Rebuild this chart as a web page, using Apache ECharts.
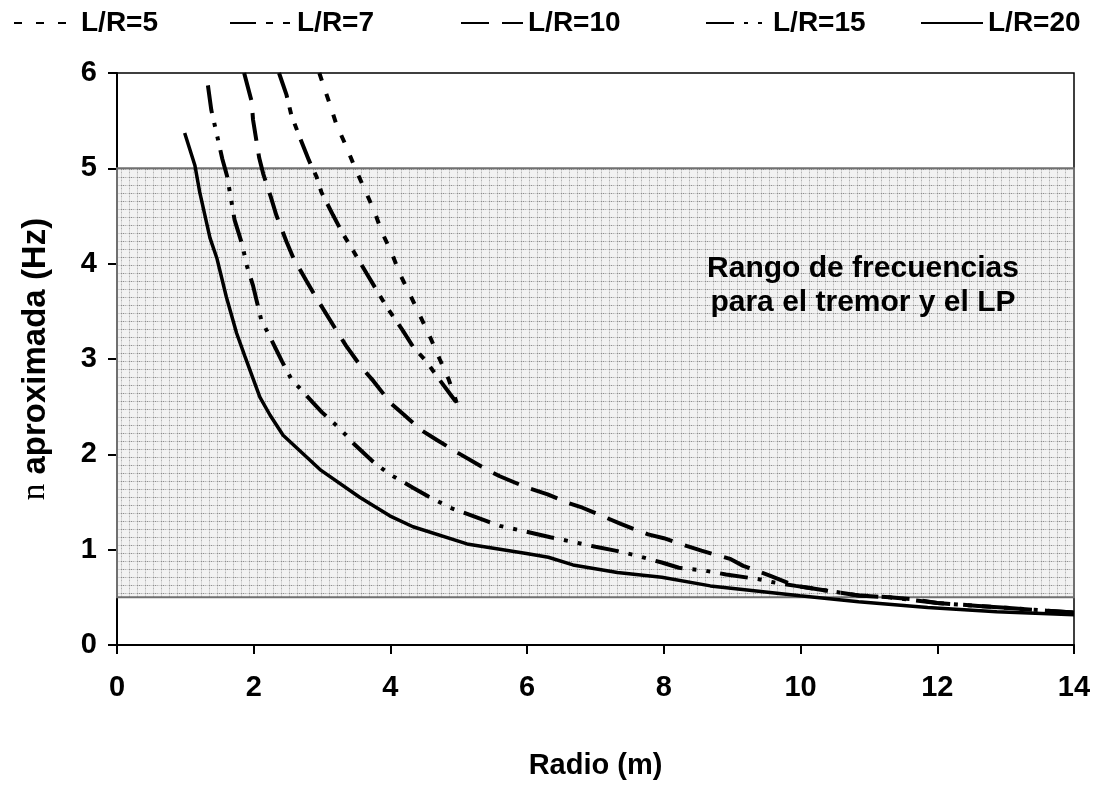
<!DOCTYPE html>
<html>
<head>
<meta charset="utf-8">
<script src="https://cdn.jsdelivr.net/npm/echarts@6/dist/echarts.min.js"></script>
<style>
html,body{margin:0;padding:0;background:#fff;}
#chart{width:1095px;height:785px;}
</style>
</head>
<body>
<div id="chart"></div>
<script>
// ---- data ----
const seriesNames = ['L/R=5', 'L/R=7', 'L/R=10', 'L/R=15', 'L/R=20'];

const lr5X = [2.96, 3.02, 3.11, 3.21, 3.36, 3.49, 3.63, 3.77, 3.87, 4.02, 4.14, 4.29, 4.43, 4.58, 4.72, 4.85, 4.97];
const lr5Y = [6.0, 5.87, 5.68, 5.46, 5.22, 4.99, 4.77, 4.54, 4.34, 4.11, 3.89, 3.67, 3.46, 3.23, 3.0, 2.79, 2.54];

const lr7X = [2.37, 2.48, 2.55, 2.66, 2.81, 2.92, 2.99, 3.16, 3.30, 3.46, 3.65, 3.80, 3.96, 4.17, 4.33, 4.53, 4.72, 4.97];
const lr7Y = [6.0, 5.77, 5.56, 5.35, 5.08, 4.91, 4.75, 4.51, 4.32, 4.13, 3.90, 3.72, 3.53, 3.31, 3.13, 2.97, 2.78, 2.54];

const lr10X = [1.86, 1.97, 1.99, 2.08, 2.14, 2.25, 2.33, 2.48, 2.58, 2.77, 2.90, 3.21, 3.35, 3.58, 3.75, 4.0, 4.19, 4.46, 4.68, 5.0, 5.41, 5.6, 6.0, 6.3, 6.6, 6.81, 7.14, 7.37, 7.77, 8.0, 8.33, 8.55, 8.98, 9.16, 9.54, 9.93, 10.39, 10.85, 11.3, 11.66, 12.0, 12.6, 13.0, 13.6, 14.0];
const lr10Y = [6.0, 5.70, 5.51, 5.11, 4.94, 4.70, 4.51, 4.23, 4.06, 3.82, 3.66, 3.30, 3.14, 2.91, 2.77, 2.54, 2.42, 2.25, 2.15, 2.01, 1.84, 1.77, 1.65, 1.58, 1.49, 1.44, 1.34, 1.27, 1.16, 1.12, 1.04, 0.99, 0.90, 0.83, 0.73, 0.62, 0.57, 0.52, 0.50, 0.48, 0.44, 0.41, 0.39, 0.36, 0.34];

const lr15X = [1.33, 1.38, 1.45, 1.54, 1.61, 1.72, 1.84, 1.89, 1.99, 2.11, 2.24, 2.41, 2.55, 2.87, 3.0, 3.26, 3.48, 3.75, 3.99, 4.33, 4.55, 4.77, 4.87, 5.41, 5.6, 6.04, 6.34, 6.68, 7.0, 7.29, 7.59, 7.97, 8.22, 8.6, 8.91, 9.39, 9.58, 9.93, 10.39, 10.85, 11.3, 12.0, 13.0, 14.0];
const lr15Y = [5.87, 5.61, 5.39, 5.10, 4.92, 4.46, 4.18, 4.0, 3.77, 3.41, 3.23, 2.98, 2.79, 2.54, 2.44, 2.27, 2.10, 1.92, 1.79, 1.65, 1.56, 1.48, 1.44, 1.30, 1.25, 1.18, 1.13, 1.08, 1.03, 0.99, 0.94, 0.865, 0.81, 0.78, 0.74, 0.69, 0.66, 0.62, 0.57, 0.52, 0.50, 0.44, 0.39, 0.34];

const lr20X = [0.99, 1.14, 1.21, 1.36, 1.46, 1.60, 1.75, 1.87, 2.09, 2.24, 2.43, 2.97, 3.55, 3.99, 4.33, 5.12, 5.99, 6.31, 6.67, 7.32, 7.97, 8.68, 9.99, 10.85, 11.86, 12.87, 14.0];
const lr20Y = [5.37, 5.03, 4.75, 4.27, 4.06, 3.65, 3.27, 3.03, 2.60, 2.41, 2.20, 1.84, 1.55, 1.355, 1.24, 1.06, 0.96, 0.92, 0.84, 0.76, 0.71, 0.62, 0.516, 0.453, 0.394, 0.349, 0.317];

const bandLow = 0.5;
const bandHigh = 5;

const xTicks = { min: 0, max: 14, interval: 2 };
const yTicks = { min: 0, max: 6, interval: 1 };

const xTitle = 'Radio (m)';
const yTitleSymbol = 'n';
const yTitleRest = ' aproximada (Hz)';
const noteLines = ['Rango de frecuencias', 'para el tremor y el LP'];

// ---- building ----
function zip(xs, ys) { return xs.map((x, i) => [x, ys[i]]); }

const FONT = 'Arial, "Liberation Sans", sans-serif';

// dotted texture for the band
function makePattern() {
  const c = document.createElement('canvas');
  c.width = 8; c.height = 8;
  const g = c.getContext('2d');
  g.fillStyle = '#f2f2f2';
  g.fillRect(0, 0, 8, 8);
  g.fillStyle = '#d6d6d6';
  g.fillRect(0, 1, 8, 1);
  g.fillRect(1, 0, 1, 8);
  g.fillStyle = '#8e8e8e';
  g.fillRect(1, 1, 1, 1);
  g.fillRect(3, 1, 1, 1);
  g.fillStyle = '#b4b4b4';
  g.fillRect(1, 4, 1, 1);
  g.fillRect(5, 1, 1, 1);
  return c;
}

const styles = {
  'L/R=5': { type: [8, 14], width: 4 },
  'L/R=7': { type: [26, 10, 7, 10, 7, 10], width: 4 },
  'L/R=10': { type: [28, 13], width: 4 },
  'L/R=15': { type: [28, 10, 4, 10, 4, 10], width: 4 },
  'L/R=20': { type: 'solid', width: 3.5 }
};
const dataMap = {
  'L/R=5': zip(lr5X, lr5Y),
  'L/R=7': zip(lr7X, lr7Y),
  'L/R=10': zip(lr10X, lr10Y),
  'L/R=15': zip(lr15X, lr15Y),
  'L/R=20': zip(lr20X, lr20Y)
};

const series = [{
  name: '_band',
  type: 'line',
  data: [],
  z: 1,
  silent: true,
  markArea: {
    silent: true,
    itemStyle: {
      color: { image: makePattern(), repeat: 'repeat' },
      borderColor: '#707070',
      borderWidth: 2
    },
    data: [[{ yAxis: bandLow, xAxis: xTicks.min }, { yAxis: bandHigh, xAxis: xTicks.max }]]
  }
}];
seriesNames.forEach(n => {
  series.push({
    name: n,
    type: 'line',
    data: dataMap[n],
    symbol: 'none',
    smooth: false,
    z: 3,
    clip: true,
    lineStyle: { color: '#000', width: styles[n].width, type: styles[n].type, cap: 'butt' },
    itemStyle: { color: '#000' }
  });
});

const legendLefts = [8, 224, 455, 700, 915];
const legends = seriesNames.map((n, i) => ({
  data: [n],
  left: legendLefts[i],
  top: 4,
  itemWidth: 62,
  itemHeight: 14,
  itemGap: 8,
  selectedMode: false,
  itemStyle: { opacity: 0 },
  textStyle: { fontFamily: FONT, fontWeight: 'bold', fontSize: 28, color: '#000' }
}));

const chart = echarts.init(document.getElementById('chart'), null, { renderer: 'canvas' });
chart.setOption({
  animation: false,
  backgroundColor: '#fff',
  legend: legends,
  grid: { left: 117, right: 21, top: 73, bottom: 132, show: true, borderColor: '#000', borderWidth: 1.5, backgroundColor: 'transparent' },
  xAxis: {
    type: 'value', min: xTicks.min, max: xTicks.max, interval: xTicks.interval,
    name: xTitle, nameLocation: 'middle', nameGap: 106,
    nameTextStyle: { fontFamily: FONT, fontWeight: 'bold', fontSize: 29, color: '#000' },
    axisLine: { show: true, onZero: false, lineStyle: { color: '#000', width: 2 } },
    axisTick: { show: true, inside: false, length: 9, lineStyle: { color: '#000', width: 2 } },
    axisLabel: { fontFamily: FONT, fontWeight: 'bold', fontSize: 29, color: '#000', margin: 28 },
    splitLine: { show: false }
  },
  yAxis: {
    type: 'value', min: yTicks.min, max: yTicks.max, interval: yTicks.interval,
    name: '{s|' + yTitleSymbol + '}' + yTitleRest, nameLocation: 'middle', nameGap: 65,
    nameTextStyle: {
      fontFamily: FONT, fontWeight: 'bold', fontSize: 33, color: '#000',
      rich: { s: { fontFamily: '"Liberation Serif", "DejaVu Serif", serif', fontWeight: 'normal', fontSize: 33, color: '#000' } }
    },
    axisLine: { show: true, onZero: false, lineStyle: { color: '#000', width: 2 } },
    axisTick: { show: true, inside: false, length: 9, lineStyle: { color: '#000', width: 2 } },
    axisLabel: { fontFamily: FONT, fontWeight: 'bold', fontSize: 29, color: '#000', margin: 20 },
    splitLine: { show: false }
  },
  graphic: [{
    type: 'text',
    x: 863, y: 252,
    style: {
      text: noteLines.join('\n'),
      font: 'bold 30px ' + FONT,
      fill: '#000',
      align: 'center',
      lineHeight: 34
    },
    z: 10
  }],
  series: series
});
</script>
</body>
</html>
